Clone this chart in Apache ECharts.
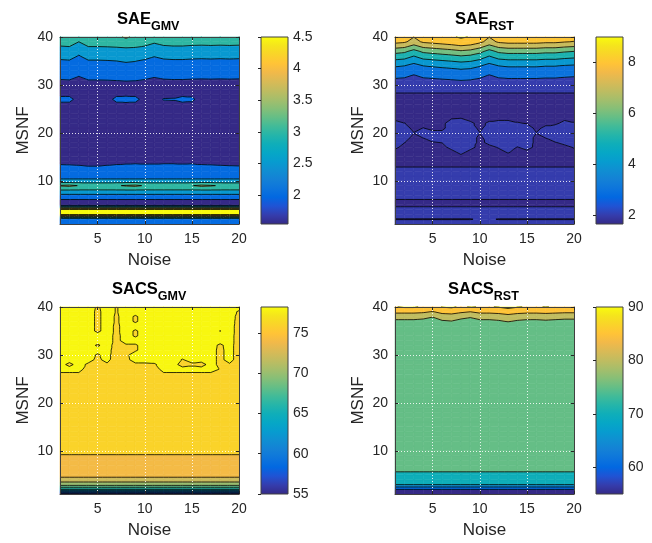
<!DOCTYPE html>
<html>
<head>
<meta charset="utf-8">
<script src="https://cdn.jsdelivr.net/npm/echarts@6/dist/echarts.min.js"></script>
<style>
html,body{margin:0;padding:0;background:#fff;}
#chart{width:652px;height:543px;}
</style>
</head>
<body>
<div id="chart"></div>
<script>
// ---- grid coordinates ----
const noise = [1,2,3,4,5,6,7,8,9,10,11,12,13,14,15,16,17,18,19,20];
const msnf = [1,2,3,4,5,6,7,8,9,10,11,12,13,14,15,16,17,18,19,20,
              21,22,23,24,25,26,27,28,29,30,31,32,33,34,35,36,37,38,39,40];

// ---- SAE (GMV): value per MSNF row, plus rows / points that vary with noise ----
const gmvProfile = [2.15,2.1,4.55,4.58,1.65,1.95,2.4,2.95,3.4,2.7,
                    2.2,2.15,2.1,1.85,1.7,1.65,1.6,1.56,1.55,1.55,
                    1.55,1.56,1.6,1.65,1.7,1.9,1.75,1.9,1.75,1.8,
                    1.97,2.2,2.25,2.35,2.45,2.62,2.75,2.98,3.15,3.3];
const gmvRow9  = [3.55,3.6,3.48,3.4,3.4,3.4,3.45,3.55,3.6,3.45,3.4,3.4,3.4,3.4,3.48,3.6,3.55,3.45,3.4,3.4];
const gmvRow13 = [2.1,2.08,2.05,2.01,2.01,2.05,2.1,2.15,2.2,2.15,2.15,2.2,2.2,2.15,2.2,2.1,2.08,2.05,2.03,2.02];
const gmvRow27 = [2.15,2.15,1.8,1.7,1.7,1.8,2.15,2.2,2.15,1.8,1.85,2.02,2.03,2.15,2.1,1.8,1.75,1.75,1.75,1.75];
const gmvTopCols = [0,0.02,-0.15,0.02,0.02,0.03,0.05,0.08,0.06,0,-0.1,-0.02,0,0,-0.02,-0.03,-0.02,-0.03,-0.02,-0.03];
const gmvTopWeights = [1,1,1,1,1,1,1,1,1,1];          // MSNF 31..40
const gmvSpots = [[8,40,3.6]];
const gmvLevels = [2,2.5,3,3.5,4,4.5];
const gmvRange = [1.54,4.5];
const gmvTicks = [2,2.5,3,3.5,4,4.5];

// ---- SAE (RST) ----
const rstProfile = [2.2,1.98,2.2,2.15,1.9,1.98,2.15,2.2,2.2,2.2,
                    2.2,2.15,1.98,1.9,1.9,1.9,1.9,1.9,1.9,1.9,
                    1.9,1.9,1.9,1.85,1.7,1.65,1.8,1.9,2.22,2.54,
                    2.86,3.22,3.63,4.07,4.79,5.5,6.3,7.29,8.23,8.6];
const rstRow2  = [1.98,1.98,1.98,1.98,1.98,1.98,1.98,1.98,1.98,2.05,2.05,1.98,1.98,1.98,1.98,1.98,1.98,1.98,1.98,1.98];
const rstRow16 = [1.9,1.9,1.9,1.9,1.9,1.9,1.9,2.1,1.9,1.9,1.9,1.9,2.03,1.9,1.9,1.9,1.9,1.9,1.9,1.9];
const rstRow17 = [2.07,1.9,1.9,1.9,1.9,1.9,2.1,2.2,2.1,1.9,1.9,2.03,2.2,1.98,2.15,1.9,1.9,1.9,1.9,2.03];
const rstRow18 = [2.2,2.01,1.9,1.9,1.98,2.01,2.2,2.2,2.2,1.9,2.1,2.2,2.2,2.2,2.2,1.9,1.9,1.98,2.1,2.2];
const rstRow19 = [2.2,2.15,1.9,2.01,2.2,2.15,2.2,2.2,2.2,1.9,2.2,2.2,2.2,2.2,2.2,1.9,2.01,2.2,2.2,2.2];
const rstRow20 = [2.2,2.15,2.01,2.1,2.1,2.1,2.2,2.2,2.2,2.01,2.2,2.2,2.2,2.2,2.2,2.01,2.15,2.2,2.2,2.2];
const rstRow21 = [2.2,2.15,1.9,2.01,1.9,1.9,2.2,2.2,2.2,1.9,2.2,2.2,2.2,2.2,2.2,1.9,2.1,2.23,2.2,2.2];
const rstRow22 = [2.15,2.01,1.9,1.9,1.9,1.9,2.2,2.2,2.07,1.9,2.07,2.15,2.15,2.03,1.98,1.9,1.9,1.9,2.15,2.03];
const rstRow23 = [1.9,1.9,1.9,1.9,1.9,1.9,1.98,2.01,1.9,1.9,1.9,1.9,1.9,1.9,1.9,1.9,1.9,1.9,1.9,1.9];
const rstTopCols = [0.05,-0.1,-0.65,-0.1,0.05,0.2,0.35,0.55,0.4,0,-0.65,-0.1,0.05,0.05,0.05,0.05,-0.05,-0.05,-0.2,-0.3];
const rstTopWeights = [0.3,0.41,0.41,0.6,0.7,0.8,1,1,0.9,0.9]; // MSNF 31..40
const rstLevels = [2,3,4,5,6,7,8,9];
const rstRange = [1.65,9.0];
const rstTicks = [2,4,6,8];

// ---- SACS (GMV) ----
const sgProfile = [55.2,66,71,73,75,75,75,75.1,75.8,76.8,
                   77,77,77,77,77,77,77,77,77,77,
                   77,77,77,77,77,77.85,78.3,78.3,78.3,78.3,
                   78.3,78.3,78.3,78.3,78.3,78.3,78.3,78.3,78.3,78.3];
// [noise, MSNF, value] cells that dip below the top plateau
const sgDips = [
  [4,27,77.6],[5,27,77.6],[6,27,77.6],[7,27,77.6],[8,27,77.6],[9,27,77.6],[10,27,77.6],[11,27,77.6],
  [18,27,77.95],[19,27,77.9],[20,27,77.6],
  [2,28,77.8],[4,28,77.85],[5,28,77.85],[6,28,77.85],[7,28,77.7],[8,28,77.85],[9,28,77.85],[10,28,77.85],[11,28,77.9],
  [14,28,77.7],[15,28,77.85],[16,28,77.7],[18,28,77.8],[19,28,77.9],[20,28,77.6],
  [5,29,77.8],[7,29,77.4],[8,29,77.8],[14,29,77.95],[18,29,77.8],[20,29,77.6],
  [5,30,77.9],[7,30,77.5],[8,30,77.85],[18,30,77.8],[20,30,77.6],
  [7,31,77.6],[8,31,77.85],[9,31,77.9],[18,31,77.8],[20,31,77.6],
  [5,32,77.9],[7,32,77.7],[8,32,77.9],[9,32,77.9],[18,32,77.85],[20,32,77.6],
  [7,33,77.8],[20,33,77.65],
  [7,34,77.8],[9,34,77.9],[20,34,77.65],
  [5,35,77.85],[7,35,77.85],[9,35,77.9],[18,35,77.98],[20,35,77.7],
  [5,36,77.85],[7,36,77.85],[20,36,77.7],
  [5,37,77.85],[7,37,77.9],[9,37,77.9],[20,37,77.75],
  [5,38,77.85],[7,38,77.9],[9,38,77.9],[20,38,77.8],
  [5,39,77.85],[7,39,77.95],[20,39,77.9],
  [5,40,77.9],[7,40,77.95]
];
const sgLevels = [56,58,60,62,64,66,68,70,72,74,76,78];
const sgRange = [55,78.2];
const sgTicks = [55,60,65,70,75];

// ---- SACS (RST) ----
const srProfile = [55.3,60.2,70.5,73,74.5,75.3,76.2,76.5,76.5,76.5,
                   76.5,76.5,76.5,76.5,76.5,76.5,76.5,76.5,76.5,76.5,
                   76.5,76.5,76.5,76.5,76.5,76.5,76.5,76.5,76.5,76.5,
                   76.5,76.5,76.5,76.5,76.5,76.8,79.0,81.8,86.2,89.8];
const srTopCols = [0,0,0,-0.4,-1.5,0.4,0.8,-0.4,-1.2,0,0,0.4,1.3,0.4,0,0,0.3,0,-0.3,-0.3];
const srTopWeights = [1,1,1,1];                       // MSNF 37..40
const srSpots = [[2,40,90.5],[3,40,90.5],[9,40,90.3]];
const srLevels = [60,65,70,75,80,85,90];
const srRange = [55,90];
const srTicks = [60,70,80,90];

// ---- parula colour map ----
const PARULA = ['#352a87','#353dad','#2053d4','#0268e1','#0d75dc','#1481d6','#108ed2','#079ccf',
                '#06a7c6','#0faeb9','#25b5a9','#42bb98','#65be86','#87bf77','#a5be6b','#c0bc60',
                '#d9ba56','#f1b94a','#ffc337','#fad32a','#f5e41d','#f9fb0e'];
const PARULA_RGB = PARULA.map(h => [parseInt(h.slice(1,3),16), parseInt(h.slice(3,5),16), parseInt(h.slice(5,7),16)]);
function parula(t) {
  t = Math.max(0, Math.min(1, t));
  const p = t * (PARULA_RGB.length - 1);
  const i = Math.min(Math.floor(p), PARULA_RGB.length - 2);
  const f = p - i, a = PARULA_RGB[i], b = PARULA_RGB[i + 1];
  return 'rgb(' + [0,1,2].map(k => Math.round(a[k] + f * (b[k] - a[k]))).join(',') + ')';
}

// ---- assemble the value tables (rows = MSNF, columns = noise) ----
function buildTable(profile, rows, shift, points) {
  const Z = msnf.map((m, mi) => noise.map((n, ni) => {
    let v = profile[mi];
    if (shift && m >= shift.from && m < shift.from + shift.weights.length) {
      v += shift.weights[m - shift.from] * shift.cols[ni];
    }
    return v;
  }));
  (rows || []).forEach(([m, arr]) => { Z[m - 1] = arr.slice(); });
  (points || []).forEach(([n, m, v]) => { Z[m - 1][n - 1] = v; });
  return Z;
}

const gmvZ = buildTable(gmvProfile, [[9, gmvRow9], [13, gmvRow13], [27, gmvRow27]],
                        {from: 31, weights: gmvTopWeights, cols: gmvTopCols}, gmvSpots);
const rstZ = buildTable(rstProfile, [[2, rstRow2], [16, rstRow16], [17, rstRow17], [18, rstRow18], [19, rstRow19],
                        [20, rstRow20], [21, rstRow21], [22, rstRow22], [23, rstRow23]],
                        {from: 31, weights: rstTopWeights, cols: rstTopCols}, null);
const sgZ = buildTable(sgProfile, null, null, sgDips);
const srZ = buildTable(srProfile, null, {from: 37, weights: srTopWeights, cols: srTopCols}, srSpots);

// ---- filled-contour geometry on a triangulated grid ----
function clip(poly, level, keepAbove) {
  const out = [];
  for (let i = 0; i < poly.length; i++) {
    const a = poly[i], b = poly[(i + 1) % poly.length];
    const ina = keepAbove ? a[2] >= level : a[2] < level;
    const inb = keepAbove ? b[2] >= level : b[2] < level;
    if (ina) out.push(a);
    if (ina !== inb) {
      const t = (level - a[2]) / (b[2] - a[2]);
      out.push([a[0] + t * (b[0] - a[0]), a[1] + t * (b[1] - a[1]), level]);
    }
  }
  return out;
}
function cellTriangles(Z, n, m, api) {
  const P = [[n, m], [n + 1, m], [n + 1, m + 1], [n, m + 1]].map(([x, y]) => {
    const c = api.coord([x, y]);
    return [c[0], c[1], Z[y - 1][x - 1]];
  });
  return Math.abs(P[0][2] - P[2][2]) <= Math.abs(P[1][2] - P[3][2])
    ? [[P[0], P[1], P[2]], [P[0], P[2], P[3]]]
    : [[P[0], P[1], P[3]], [P[1], P[2], P[3]]];
}
function fillRenderer(Z, levels, range) {
  const colors = [parula(0)].concat(levels.map(l => parula((l - range[0]) / (range[1] - range[0]))));
  return function (params, api) {
    const n = api.value(0), m = api.value(1);
    const paths = {};
    cellTriangles(Z, n, m, api).forEach(tri => {
      const zs = tri.map(p => p[2]);
      const zmin = Math.min(...zs), zmax = Math.max(...zs);
      for (let b = 0; b <= levels.length; b++) {
        const lo = b === 0 ? -Infinity : levels[b - 1];
        const hi = b === levels.length ? Infinity : levels[b];
        if (hi <= zmin || lo > zmax) continue;
        let poly = tri;
        if (b > 0) poly = clip(poly, lo, true);
        if (poly.length >= 3 && b < levels.length) poly = clip(poly, hi, false);
        if (poly.length < 3) continue;
        const d = 'M' + poly.map(p => p[0].toFixed(2) + ' ' + p[1].toFixed(2)).join('L') + 'Z';
        paths[b] = (paths[b] || '') + d;
      }
    });
    return {
      type: 'group',
      children: Object.keys(paths).map(b => ({
        type: 'path',
        shape: {pathData: paths[b]},
        style: {fill: colors[b], stroke: colors[b], lineWidth: 0.6}
      }))
    };
  };
}
function lineRenderer(Z, levels) {
  return function (params, api) {
    const n = api.value(0), m = api.value(1);
    let d = '';
    cellTriangles(Z, n, m, api).forEach(tri => {
      levels.forEach(L => {
        const pts = [];
        for (let i = 0; i < 3; i++) {
          const a = tri[i], b = tri[(i + 1) % 3];
          if ((a[2] >= L) !== (b[2] >= L)) {
            const t = (L - a[2]) / (b[2] - a[2]);
            pts.push([a[0] + t * (b[0] - a[0]), a[1] + t * (b[1] - a[1])]);
          }
        }
        if (pts.length === 2) {
          d += 'M' + pts[0][0].toFixed(2) + ' ' + pts[0][1].toFixed(2) + 'L' + pts[1][0].toFixed(2) + ' ' + pts[1][1].toFixed(2);
        }
      });
    });
    if (!d) return null;
    return {type: 'path', shape: {pathData: d}, style: {fill: null, stroke: '#000', lineWidth: 0.8}};
  };
}
function colorbarRenderer(range) {
  return function (params, api) {
    const a = api.coord([0, range[1]]), b = api.coord([1, range[0]]);
    const shape = {x: a[0], y: a[1], width: b[0] - a[0], height: b[1] - a[1]};
    return {
      type: 'group',
      children: [
        {type: 'rect', shape, style: {fill: {type: 'linear', x: 0, y: 1, x2: 0, y2: 0,
          colorStops: PARULA.map((c, i) => ({offset: i / (PARULA.length - 1), color: c}))}}},
        {type: 'rect', shape, style: {fill: null, stroke: '#404040', lineWidth: 1}}
      ]
    };
  };
}

// ---- panels ----
const panels = [
  {name: 'SAE',  sub: 'GMV', Z: gmvZ, levels: gmvLevels, range: gmvRange, ticks: gmvTicks},
  {name: 'SAE',  sub: 'RST', Z: rstZ, levels: rstLevels, range: rstRange, ticks: rstTicks},
  {name: 'SACS', sub: 'GMV', Z: sgZ,  levels: sgLevels,  range: sgRange,  ticks: sgTicks},
  {name: 'SACS', sub: 'RST', Z: srZ,  levels: srLevels,  range: srRange,  ticks: srTicks}
];
const boxes = [
  {left: 60,  top: 37,  cb: 261, tx: 117, ty: 11},
  {left: 395, top: 37,  cb: 596, tx: 455, ty: 11},
  {left: 60,  top: 307, cb: 261, tx: 112, ty: 281},
  {left: 395, top: 307, cb: 596, tx: 448, ty: 281}
];
const PW = 179, PH = 187, CBW = 27;
const FONT = '"Liberation Sans", Arial, Helvetica, sans-serif';
const INK = '#262626';
const xTicks = [5, 10, 15, 20];
const yTicks = [10, 20, 30, 40];

const cells = [];
noise.slice(0, -1).forEach(n => msnf.slice(0, -1).forEach(m => cells.push([n, m])));

const grid = [], xAxis = [], yAxis = [], series = [], title = [];
panels.forEach((p, k) => {
  const b = boxes[k];
  grid.push({left: b.left, top: b.top, width: PW, height: PH});
  grid.push({left: b.cb, top: b.top, width: CBW, height: PH});
  const gi = 2 * k;
  const tickStyle = {show: true, inside: true, length: 3, lineStyle: {color: INK, width: 1}};
  const lineStyle = {show: true, onZero: false, lineStyle: {color: '#404040', width: 1}};
  // plot axes: bottom / top, left / right
  xAxis.push({type: 'value', gridIndex: gi, position: 'bottom', min: 1, max: 20, z: 5,
    axisLine: lineStyle, axisTick: Object.assign({customValues: xTicks}, tickStyle),
    axisLabel: {customValues: xTicks, margin: 8, fontSize: 14, color: INK, fontFamily: FONT},
    splitLine: {show: true, lineStyle: {color: 'rgba(255,255,255,0.85)', type: [1, 2], width: 1}},
    name: 'Noise', nameLocation: 'middle', nameGap: 28,
    nameTextStyle: {fontSize: 17, color: INK, fontFamily: FONT}});
  xAxis.push({type: 'value', gridIndex: gi, position: 'top', min: 1, max: 20, z: 5,
    axisLine: lineStyle, axisTick: Object.assign({customValues: xTicks}, tickStyle),
    axisLabel: {show: false}, splitLine: {show: false}});
  xAxis.push({type: 'value', gridIndex: gi + 1, min: 0, max: 1, show: false});
  yAxis.push({type: 'value', gridIndex: gi, position: 'left', min: 1, max: 40, z: 5,
    axisLine: lineStyle, axisTick: Object.assign({customValues: yTicks}, tickStyle),
    axisLabel: {customValues: yTicks, margin: 7, fontSize: 14, color: INK, fontFamily: FONT},
    splitLine: {show: true, lineStyle: {color: 'rgba(255,255,255,0.85)', type: [1, 2], width: 1}},
    name: 'MSNF', nameLocation: 'middle', nameGap: 28,
    nameTextStyle: {fontSize: 17, color: INK, fontFamily: FONT}});
  yAxis.push({type: 'value', gridIndex: gi, position: 'right', min: 1, max: 40, z: 5,
    axisLine: lineStyle, axisTick: Object.assign({customValues: yTicks}, tickStyle),
    axisLabel: {show: false}, splitLine: {show: false}});
  yAxis.push({type: 'value', gridIndex: gi + 1, position: 'right', min: p.range[0], max: p.range[1], z: 5,
    axisLine: {show: false}, axisTick: Object.assign({customValues: p.ticks}, tickStyle),
    axisLabel: {customValues: p.ticks, margin: 5, fontSize: 14, color: INK, fontFamily: FONT},
    splitLine: {show: false}});
  const ax = 3 * k;
  series.push({type: 'custom', xAxisIndex: ax, yAxisIndex: ax, data: cells, z: 2, silent: true,
    encode: {x: 0, y: 1}, renderItem: fillRenderer(p.Z, p.levels, p.range)});
  series.push({type: 'custom', xAxisIndex: ax, yAxisIndex: ax, data: cells, z: 3, silent: true,
    encode: {x: 0, y: 1}, renderItem: lineRenderer(p.Z, p.levels)});
  series.push({type: 'custom', xAxisIndex: ax + 2, yAxisIndex: ax + 2, data: [[0, p.range[0]]], z: 2, silent: true,
    encode: {x: 0, y: 1}, renderItem: colorbarRenderer(p.range)});
  title.push({text: '{m|' + p.name + '}{s|' + p.sub + '}', left: b.tx, top: b.ty, padding: 0,
    textStyle: {rich: {
      m: {fontSize: 16.5, fontWeight: 'bold', color: '#000', fontFamily: FONT, lineHeight: 22, verticalAlign: 'top'},
      s: {fontSize: 12.5, fontWeight: 'bold', color: '#000', fontFamily: FONT, lineHeight: 22, verticalAlign: 'bottom'}
    }}});
});

const chart = echarts.init(document.getElementById('chart'), null, {renderer: 'canvas'});
chart.setOption({animation: false, backgroundColor: '#fff', title, grid, xAxis, yAxis, series});
</script>
</body>
</html>
